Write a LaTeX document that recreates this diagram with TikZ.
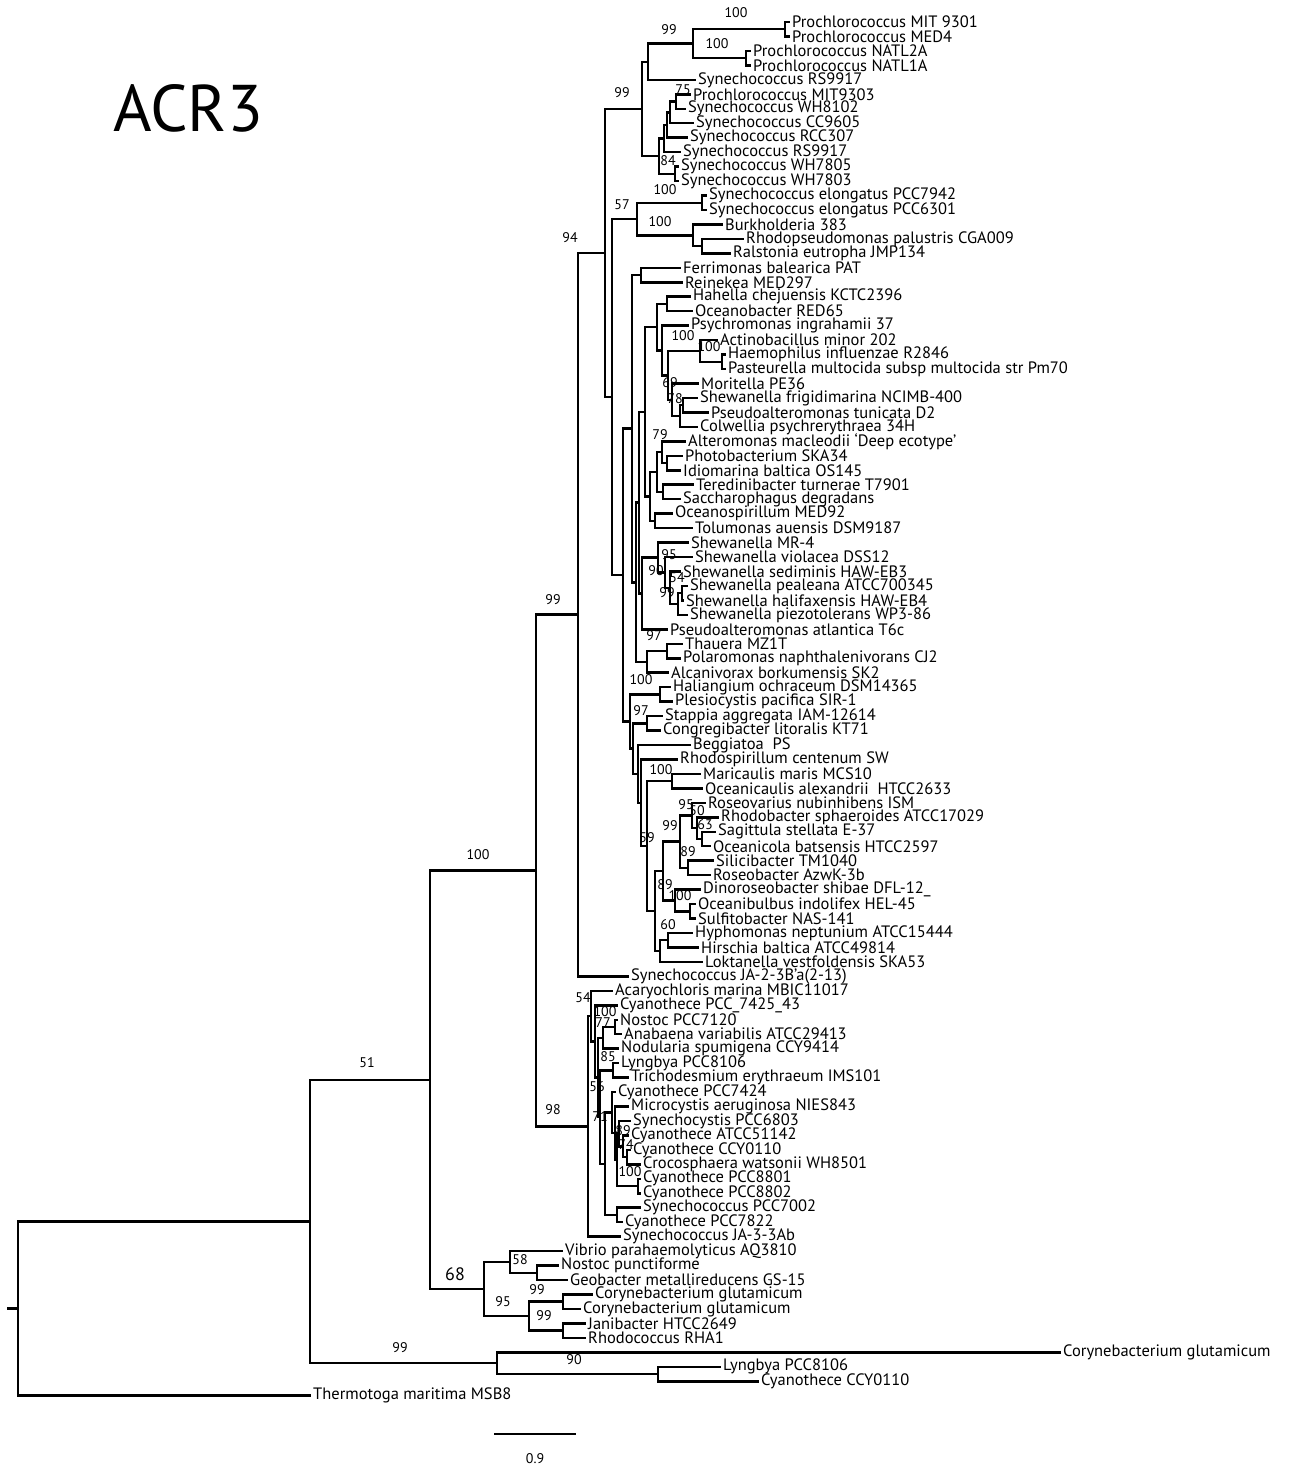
\documentclass[tikz,border=0pt]{standalone}
\usepackage{fontspec}
\setmainfont{PT Sans}
\usepackage{tikz}
\usetikzlibrary{calc}

% tip of the tree: name, x, row, label
\newcommand{\tipnode}[4]{\node[taxon] (#1) at (#2,{22+14.46*#3}) {#4};}
% inner node at x, halfway between its two children
\newcommand{\clade}[4]{%
  \path let \p1=($(#3)!.5!(#4)$) in coordinate (#1) at (#2,\y1);
  \draw[branch] (#3) -| (#1) |- (#4);}

\begin{document}
\begin{tikzpicture}[x=1pt,y=-1pt,
    taxon/.style={anchor=west, inner xsep=3pt, inner ysep=0pt, font=\fontsize{16.5}{16.5}\selectfont},
    boot/.style={inner sep=0pt, font=\fontsize{14}{14}\selectfont},
    branch/.style={line width=2.5pt, line cap=rect}
  ]
  \useasboundingbox (0,0) rectangle (1298,1468);
  \node[font=\fontsize{66}{66}\selectfont] (title) at (188,108) {ACR3};

  % bootstrap values
  \node[boot] (b1) at (736,13) {100};
  \node[boot] (b2) at (669,30) {99};
  \node[boot] (b3) at (717,44) {100};
  \node[boot] (b4) at (622,93) {99};
  \node[boot] (b5) at (683,90) {75};
  \node[boot] (b6) at (668,161) {84};
  \node[boot] (b7) at (665,190) {100};
  \node[boot] (b8) at (622,205) {57};
  \node[boot] (b9) at (660,222) {100};
  \node[boot] (b10) at (570,238) {94};
  \node[boot] (b11) at (683,336) {100};
  \node[boot] (b12) at (709,347) {100};
  \node[boot] (b13) at (670,383) {69};
  \node[boot] (b14) at (675,399) {78};
  \node[boot] (b15) at (660,435) {79};
  \node[boot] (b16) at (669,555) {95};
  \node[boot] (b17) at (656,571) {90};
  \node[boot] (b18) at (677,578) {54};
  \node[boot] (b19) at (667,593) {99};
  \node[boot] (b20) at (654,636) {97};
  \node[boot] (b21) at (641,680) {100};
  \node[boot] (b22) at (641,711) {97};
  \node[boot] (b23) at (661,770) {100};
  \node[boot] (b24) at (686,805) {95};
  \node[boot] (b25) at (697,811) {50};
  \node[boot] (b26) at (705,825) {63};
  \node[boot] (b27) at (670,826) {99};
  \node[boot] (b28) at (647,838) {59};
  \node[boot] (b29) at (688,852) {89};
  \node[boot] (b30) at (665,885) {89};
  \node[boot] (b31) at (680,896) {100};
  \node[boot] (b32) at (668,925) {60};
  \node[boot] (b33) at (553,600) {99};
  \node[boot] (b34) at (478,855) {100};
  \node[boot] (b35) at (583,998) {54};
  \node[boot] (b36) at (605,1012) {100};
  \node[boot] (b37) at (603,1023) {77};
  \node[boot] (b38) at (608,1057) {85};
  \node[boot] (b39) at (597,1087) {56};
  \node[boot] (b40) at (600,1117) {71};
  \node[boot] (b41) at (623,1131) {89};
  \node[boot] (b42) at (626,1145) {74};
  \node[boot] (b43) at (630,1172) {100};
  \node[boot] (b44) at (553,1110) {98};
  \node[boot] (b45) at (367,1063) {51};
  \node[boot, font=\fontsize{18}{18}\selectfont] (b46) at (455,1274) {68};
  \node[boot] (b47) at (520,1260) {58};
  \node[boot] (b48) at (537,1290) {99};
  \node[boot] (b49) at (503,1302) {95};
  \node[boot] (b50) at (544,1316) {99};
  \node[boot] (b51) at (400,1348) {99};
  \node[boot] (b52) at (574,1360) {90};

  % tips
  \tipnode{pm9301}{789}{0}{Prochlorococcus MIT 9301}
  \tipnode{pmed4}{789}{1}{Prochlorococcus MED4}
  \tipnode{pnatl2}{750}{2}{Prochlorococcus NATL2A}
  \tipnode{pnatl1}{750}{3}{Prochlorococcus NATL1A}
  \tipnode{srs1}{695}{4}{Synechococcus RS9917}
  \tipnode{pmit9303}{690}{5}{Prochlorococcus MIT9303}
  \tipnode{swh8102}{685}{6}{Synechococcus WH8102}
  \tipnode{scc9605}{693}{7}{Synechococcus CC9605}
  \tipnode{srcc307}{687}{8}{Synechococcus RCC307}
  \tipnode{srs2}{680}{9}{Synechococcus RS9917}
  \tipnode{swh7805}{678}{10}{Synechococcus WH7805}
  \tipnode{swh7803}{678}{11}{Synechococcus WH7803}
  \tipnode{se7942}{706}{12}{Synechococcus elongatus PCC7942}
  \tipnode{se6301}{706}{13}{Synechococcus elongatus PCC6301}
  \tipnode{burk}{722}{14}{Burkholderia 383}
  \tipnode{rpal}{743}{15}{Rhodopseudomonas palustris CGA009}
  \tipnode{ralst}{730}{16}{Ralstonia eutropha JMP134}
  \tipnode{ferri}{680}{17}{Ferrimonas balearica PAT}
  \tipnode{reine}{682}{18}{Reinekea MED297}
  \tipnode{hahel}{690}{19}{Hahella chejuensis KCTC2396}
  \tipnode{ocnob}{692}{20}{Oceanobacter RED65}
  \tipnode{psych}{688}{21}{Psychromonas ingrahamii 37}
  \tipnode{actin}{717}{22}{Actinobacillus minor 202}
  \tipnode{haemo}{725}{23}{Haemophilus influenzae R2846}
  \tipnode{paste}{725}{24}{Pasteurella multocida subsp multocida str Pm70}
  \tipnode{morit}{698}{25}{Moritella PE36}
  \tipnode{sfrig}{697}{26}{Shewanella frigidimarina NCIMB-400}
  \tipnode{ptuni}{708}{27}{Pseudoalteromonas tunicata D2}
  \tipnode{colwe}{697}{28}{Colwellia psychrerythraea 34H}
  \tipnode{alter}{685}{29}{Alteromonas macleodii ‘Deep ecotype’}
  \tipnode{photo}{682}{30}{Photobacterium SKA34}
  \tipnode{idiom}{680}{31}{Idiomarina baltica OS145}
  \tipnode{tered}{693}{32}{Teredinibacter turnerae T7901}
  \tipnode{sacch}{680}{33}{Saccharophagus degradans}
  \tipnode{ocnsp}{672}{34}{Oceanospirillum MED92}
  \tipnode{tolum}{692}{35}{Tolumonas auensis DSM9187}
  \tipnode{smr4}{688}{36}{Shewanella MR-4}
  \tipnode{sviol}{692}{37}{Shewanella violacea DSS12}
  \tipnode{ssedi}{680}{38}{Shewanella sediminis HAW-EB3}
  \tipnode{speal}{687}{39}{Shewanella pealeana ATCC700345}
  \tipnode{shali}{683}{40}{Shewanella halifaxensis HAW-EB4}
  \tipnode{spiez}{687}{41}{Shewanella piezotolerans WP3-86}
  \tipnode{patla}{667}{42}{Pseudoalteromonas atlantica T6c}
  \tipnode{thaue}{682}{43}{Thauera MZ1T}
  \tipnode{polar}{680}{44}{Polaromonas naphthalenivorans CJ2}
  \tipnode{alcan}{668}{45}{Alcanivorax borkumensis SK2}
  \tipnode{halia}{670}{46}{Haliangium ochraceum DSM14365}
  \tipnode{plesi}{672}{47}{Plesiocystis pacifica SIR-1}
  \tipnode{stapp}{662}{48}{Stappia aggregata IAM-12614}
  \tipnode{congr}{660}{49}{Congregibacter litoralis KT71}
  \tipnode{beggi}{690}{50}{Beggiatoa\ \ PS}
  \tipnode{rhspi}{677}{51}{Rhodospirillum centenum SW}
  \tipnode{maric}{700}{52}{Maricaulis maris MCS10}
  \tipnode{ocnca}{702}{53}{Oceanicaulis alexandrii\ \ HTCC2633}
  \tipnode{rsvar}{705}{54}{Roseovarius nubinhibens ISM}
  \tipnode{rhbac}{718}{55}{Rhodobacter sphaeroides ATCC17029}
  \tipnode{sagit}{715}{56}{Sagittula stellata E-37}
  \tipnode{ocnco}{710}{57}{Oceanicola batsensis HTCC2597}
  \tipnode{silic}{713}{58}{Silicibacter TM1040}
  \tipnode{rsbac}{710}{59}{Roseobacter AzwK-3b}
  \tipnode{dinor}{700}{60}{Dinoroseobacter shibae DFL-12\_}
  \tipnode{ocnbu}{695}{61}{Oceanibulbus indolifex HEL-45}
  \tipnode{sulfi}{695}{62}{Sulfitobacter NAS-141}
  \tipnode{hypho}{692}{63}{Hyphomonas neptunium ATCC15444}
  \tipnode{hirsc}{698}{64}{Hirschia baltica ATCC49814}
  \tipnode{lokta}{702}{65}{Loktanella vestfoldensis SKA53}
  \tipnode{sja2}{628}{66}{Synechococcus JA-2-3B’a(2-13)}
  \tipnode{acary}{612}{67}{Acaryochloris marina MBIC11017}
  \tipnode{c7425}{617}{68}{Cyanothece PCC\_7425\_43}
  \tipnode{nos7120}{617}{69}{Nostoc PCC7120}
  \tipnode{anaba}{621}{70}{Anabaena variabilis ATCC29413}
  \tipnode{nodul}{618}{71}{Nodularia spumigena CCY9414}
  \tipnode{lyng1}{618}{72}{Lyngbya PCC8106}
  \tipnode{trich}{628}{73}{Trichodesmium erythraeum IMS101}
  \tipnode{c7424}{615}{74}{Cyanothece PCC7424}
  \tipnode{micro}{628}{75}{Microcystis aeruginosa NIES843}
  \tipnode{syncy}{630}{76}{Synechocystis PCC6803}
  \tipnode{c51142}{628}{77}{Cyanothece ATCC51142}
  \tipnode{cccy1}{630}{78}{Cyanothece CCY0110}
  \tipnode{croco}{640}{79}{Crocosphaera watsonii WH8501}
  \tipnode{c8801}{640}{80}{Cyanothece PCC8801}
  \tipnode{c8802}{640}{81}{Cyanothece PCC8802}
  \tipnode{s7002}{640}{82}{Synechococcus PCC7002}
  \tipnode{c7822}{622}{83}{Cyanothece PCC7822}
  \tipnode{sja3}{620}{84}{Synechococcus JA-3-3Ab}
  \tipnode{vibri}{562}{85}{Vibrio parahaemolyticus AQ3810}
  \tipnode{nospu}{558}{86}{Nostoc punctiforme}
  \tipnode{geoba}{567}{87}{Geobacter metallireducens GS-15}
  \tipnode{cory1}{592}{88}{Corynebacterium glutamicum}
  \tipnode{cory2}{580}{89}{Corynebacterium glutamicum}
  \tipnode{janib}{585}{90}{Janibacter HTCC2649}
  \tipnode{rhcoc}{585}{91}{Rhodococcus RHA1}
  \tipnode{cory3}{1060}{92}{Corynebacterium glutamicum}
  \tipnode{lyng2}{720}{93}{Lyngbya PCC8106}
  \tipnode{cccy2}{758}{94}{Cyanothece CCY0110}
  \tipnode{therm}{310}{95}{Thermotoga maritima MSB8}

  % cyanobacteria, top
  \clade{n100a}{785}{pm9301}{pmed4}
  \clade{n100b}{746}{pnatl2}{pnatl1}
  \clade{npro}{693}{n100a}{n100b}
  \clade{n99a}{648}{npro}{srs1}
  \clade{n75}{676}{pmit9303}{swh8102}
  \clade{nsa}{670}{n75}{scc9605}
  \clade{nsb}{667}{nsa}{srcc307}
  \clade{nsc}{664}{nsb}{srs2}
  \clade{nwh}{675}{swh7805}{swh7803}
  \clade{n84}{659}{nsc}{nwh}
  \clade{n99}{642}{n99a}{n84}
  \clade{nelo}{702}{se7942}{se6301}
  \clade{nrr}{702}{rpal}{ralst}
  \clade{nbur}{693}{burk}{nrr}
  \clade{n57}{637}{nelo}{nbur}

  % gamma
  \clade{nfr}{641}{ferri}{reine}
  \clade{nho}{667}{hahel}{ocnob}
  \clade{nhp}{722}{haemo}{paste}
  \clade{nac}{700}{actin}{nhp}
  \clade{nsp}{683}{sfrig}{ptuni}
  \clade{nspc}{680}{nsp}{colwe}
  \clade{n69}{672}{morit}{nspc}
  \clade{nam}{668}{nac}{n69}
  \clade{nps}{662}{psych}{nam}
  \clade{nhop}{657}{nho}{nps}
  \clade{npi}{667}{photo}{idiom}
  \clade{nalt}{662}{alter}{npi}
  \clade{nts}{663}{tered}{sacch}
  \clade{n79}{657}{nalt}{nts}
  \clade{not}{655}{ocnsp}{tolum}
  \clade{nga}{650}{n79}{not}
  \clade{ngb}{645}{nhop}{nga}
  \clade{nph}{682}{speal}{shali}
  \clade{nphp}{678}{nph}{spiez}
  \clade{n54}{670}{ssedi}{nphp}
  \clade{n95}{665}{sviol}{n54}
  \clade{n90}{658}{smr4}{n95}
  \clade{n97a}{642}{n90}{patla}
  \clade{ngc}{639}{ngb}{n97a}
  \clade{ntp}{667}{thaue}{polar}
  \clade{n100t}{647}{ntp}{alcan}
  \clade{ngd}{636}{ngc}{n100t}
  \clade{nge}{632}{nfr}{ngd}

  % alpha
  \clade{nhpl}{660}{halia}{plesi}
  \clade{nsc2}{647}{stapp}{congr}
  \clade{nmar}{672}{maric}{ocnca}
  \clade{nrd}{702}{sagit}{ocnco}
  \clade{nrc}{697}{rhbac}{nrd}
  \clade{nrb}{692}{rsvar}{nrc}
  \clade{nsr}{688}{silic}{rsbac}
  \clade{n99r}{680}{nrb}{nsr}
  \clade{nos}{690}{ocnbu}{sulfi}
  \clade{n100d}{675}{dinor}{nos}
  \clade{n89}{663}{n99r}{n100d}
  \clade{nhh}{668}{hypho}{hirsc}
  \clade{n60}{660}{nhh}{lokta}
  \clade{n59}{655}{n89}{n60}
  \clade{n100m}{647}{nmar}{n59}
  \clade{nrsp}{641}{rhspi}{n100m}
  \clade{nbeg}{638}{beggi}{nrsp}
  \clade{n97b}{633}{nsc2}{nbeg}
  \clade{nalp}{630}{nhpl}{n97b}
  \clade{ngam}{623}{nge}{nalp}
  \clade{nq}{612}{n57}{ngam}
  \clade{n94}{605}{n99}{nq}
  \clade{n99e}{578}{n94}{sja2}

  % cyanobacteria, lower
  \clade{nna}{615}{nos7120}{anaba}
  \clade{n85}{603}{nna}{nodul}
  \clade{nlt}{613}{lyng1}{trich}
  \clade{ncc}{627}{cccy1}{croco}
  \clade{n74}{623}{c51142}{ncc}
  \clade{n89c}{619}{syncy}{n74}
  \clade{n88}{638}{c8801}{c8802}
  \clade{nsap}{617}{n89c}{n88}
  \clade{nms}{615}{micro}{nsap}
  \clade{npm}{612}{c7424}{nms}
  \clade{n70}{617}{s7002}{c7822}
  \clade{n71}{605}{npm}{n70}
  \clade{n56}{600}{nlt}{n71}
  \clade{n77}{598}{n85}{n56}
  \clade{n100c}{595}{c7425}{n77}
  \clade{n54c}{591}{acary}{n100c}
  \clade{n98}{588}{n54c}{sja3}
  \clade{nx}{536}{n99e}{n98}

  % outgroups
  \clade{n99n}{537}{nospu}{geoba}
  \clade{n58}{510}{vibri}{n99n}
  \clade{nco}{563}{cory1}{cory2}
  \clade{njr}{563}{janib}{rhcoc}
  \clade{n95b}{529}{nco}{njr}
  \clade{n68}{484}{n58}{n95b}
  \clade{n100}{430}{nx}{n68}
  \clade{n90b}{658}{lyng2}{cccy2}
  \clade{n99b}{497}{cory3}{n90b}
  \clade{n51}{310}{n100}{n99b}
  \clade{root}{18}{n51}{therm}
  \coordinate (rootstub) at ($(root)+(-10,0)$);
  \draw[branch] (rootstub) -- (root);

  % scale bar
  \coordinate (sbl) at (495,1434);
  \coordinate (sbr) at (575,1434);
  \draw[branch] (sbl) -- (sbr);
  \node[boot] (sblab) at (535,1459) {0.9};
\end{tikzpicture}
\end{document}
